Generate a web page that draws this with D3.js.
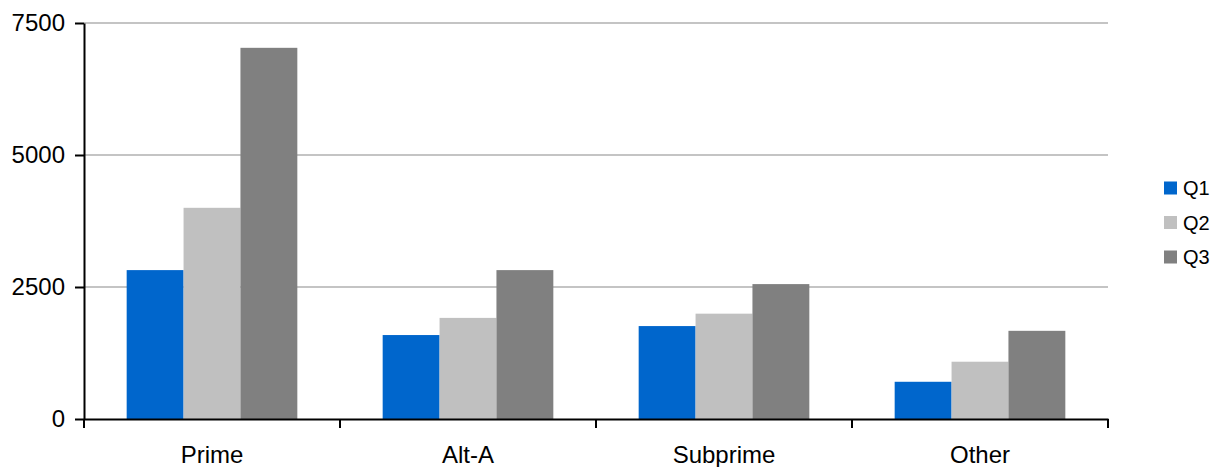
<!DOCTYPE html>
<html>
<head>
<meta charset="utf-8">
<script src="https://cdn.jsdelivr.net/npm/d3@7"></script>
<style>
  html, body { margin: 0; padding: 0; background: #fff; }
  svg { display: block; font-family: "Liberation Sans", Arial, sans-serif; }
</style>
</head>
<body>
<svg id="chart" width="1212" height="467"></svg>
<script>
const categories = ["Prime", "Alt-A", "Subprime", "Other"];
const seriesNames = ["Q1", "Q2", "Q3"];
const q1Values = [2820, 1590, 1760, 705];
const q2Values = [4000, 1915, 1995, 1085];
const q3Values = [7030, 2820, 2555, 1670];
const yTicks = [0, 2500, 5000, 7500];
const colors = ["#0066CC", "#C0C0C0", "#808080"];

const seriesValues = [q1Values, q2Values, q3Values];
const data = categories.map((c, i) => ({
  category: c,
  values: seriesNames.map((s, j) => ({ series: s, value: seriesValues[j][i] }))
}));

const svg = d3.select("#chart");
const plotLeft = 84, plotRight = 1108, plotTop = 23, plotBottom = 419;

const x0 = d3.scaleBand().domain(categories).range([plotLeft, plotRight]).padding(0);
const x1 = d3.scaleBand().domain(seriesNames).range([0, x0.bandwidth()])
  .paddingInner(0).paddingOuter(0.75);
const y = d3.scaleLinear().domain([0, 7500]).range([plotBottom, plotTop]);
const color = d3.scaleOrdinal().domain(seriesNames).range(colors);

// gridlines
svg.append("g").selectAll("line").data(yTicks.filter(t => t > 0)).join("line")
  .attr("x1", plotLeft).attr("x2", plotRight)
  .attr("y1", d => y(d)).attr("y2", d => y(d))
  .attr("stroke", "#c4c4c4").attr("stroke-width", 2);

// bars
const groups = svg.append("g").selectAll("g").data(data).join("g")
  .attr("transform", d => `translate(${x0(d.category)},0)`);
groups.selectAll("rect").data(d => d.values).join("rect")
  .attr("x", d => x1(d.series))
  .attr("width", x1.bandwidth())
  .attr("y", d => y(d.value))
  .attr("height", d => y(0) - y(d.value))
  .attr("fill", d => color(d.series));

// y axis
const yAxis = svg.append("g").attr("transform", `translate(${plotLeft},0)`)
  .call(d3.axisLeft(y).tickValues(yTicks).tickFormat(d3.format("d"))
    .tickSize(9).tickSizeOuter(0).tickPadding(10));
yAxis.select(".domain").attr("stroke", "#000").attr("stroke-width", 2);
yAxis.selectAll(".tick line").attr("stroke", "#000").attr("stroke-width", 2);
yAxis.selectAll(".tick text").attr("font-size", 24).attr("fill", "#000")
  .attr("font-family", "'Liberation Sans', Arial, sans-serif");

// x axis
const xAxis = svg.append("g").attr("transform", `translate(0,${plotBottom})`)
  .call(d3.axisBottom(x0).tickSize(0).tickSizeOuter(0).tickPadding(27));
xAxis.select(".domain").attr("stroke", "#000").attr("stroke-width", 2);
xAxis.selectAll(".tick text").attr("font-size", 24).attr("fill", "#000")
  .attr("font-family", "'Liberation Sans', Arial, sans-serif");
const boundaries = categories.map(c => x0(c)).concat([x0.range()[1]]);
xAxis.append("g").selectAll("line").data(boundaries).join("line")
  .attr("x1", d => d).attr("x2", d => d)
  .attr("y1", 0).attr("y2", 9)
  .attr("stroke", "#000").attr("stroke-width", 2);

// legend
const legend = svg.append("g").selectAll("g").data(seriesNames).join("g")
  .attr("transform", (d, i) => `translate(1164,${188 + i * 34.5})`);
legend.append("rect").attr("x", 0).attr("y", -6.5).attr("width", 13).attr("height", 13)
  .attr("fill", d => color(d));
legend.append("text").attr("x", 19).attr("y", 0).attr("dy", "0.35em")
  .attr("font-size", 20).attr("fill", "#000").text(d => d);
</script>
</body>
</html>
